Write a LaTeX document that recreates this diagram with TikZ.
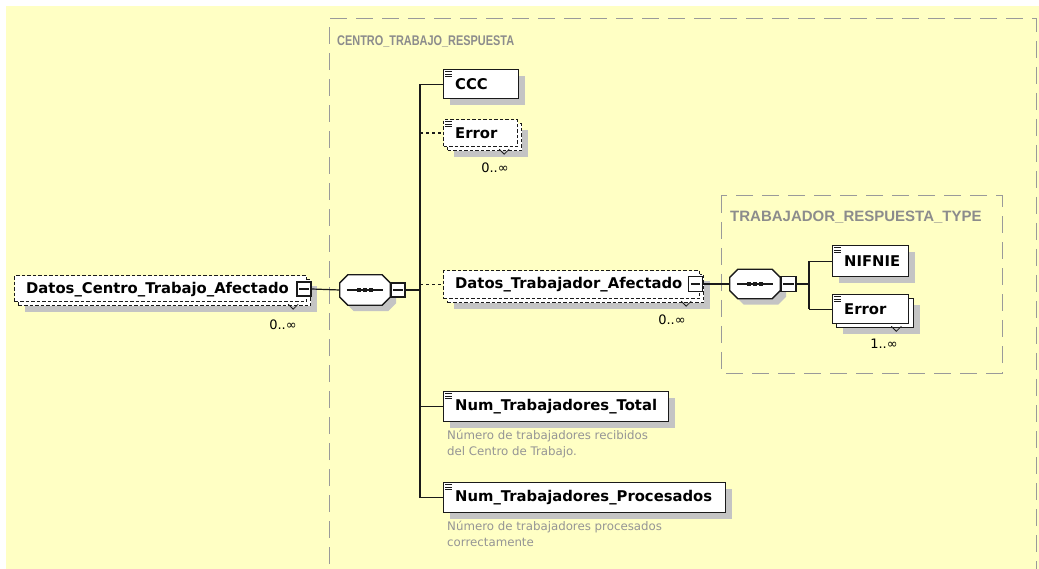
\documentclass[tikz,border=0pt]{standalone}
\usepackage{fontspec}
\setmainfont{DejaVu Sans}
\newfontfamily\labfont{Liberation Sans}
\usetikzlibrary{calc,shadows}
\definecolor{bgc}{HTML}{FFFFC4}
\definecolor{shadowc}{HTML}{C4C4C4}
\definecolor{grpc}{HTML}{9A9A9A}
\definecolor{labc}{HTML}{8C8C8C}
\definecolor{descc}{HTML}{959595}
\definecolor{linec}{HTML}{1A1A1A}
\tikzset{
  grpbox/.style={draw=grpc, line width=1pt, dash pattern=on 17pt off 9pt},
  grplabel/.style={text=labc, font=\labfont\bfseries\fontsize{14}{16}\selectfont, anchor=west, inner sep=0},
  elem/.style={draw=linec, fill=white, line width=1.3pt, inner sep=0, anchor=north west},
  elemdash/.style={elem, line width=1.2pt, dash pattern=on 3.5pt off 2pt},
  shad/.style={general shadow={shadow xshift=6pt, shadow yshift=-6pt, fill=shadowc}},
  etext/.style={font=\bfseries\fontsize{14.8}{16}\selectfont, anchor=west, inner sep=0},
  conn/.style={draw=linec, line width=1.2pt},
  conndash/.style={conn, dash pattern=on 3pt off 3pt},
  minusbox/.style={draw=linec, fill=white, line width=1.2pt, inner sep=0, minimum width=14, minimum height=14},
  seqbox/.style={inner sep=0, minimum width=50, minimum height=30},
  mult/.style={font=\fontsize{13}{15}\selectfont, inner sep=0},
  desc/.style={text=descc, font=\fontsize{11.8}{16}\selectfont, anchor=north west, inner sep=0, align=left},
  notch/.style={draw=linec, line width=0.8pt},
  icn/.style={draw=linec, line width=0.8pt}
}
\newcommand\octo[3]{($(#1.north west)+(8+#2,#3)$) -- ($(#1.north east)+(-8+#2,#3)$) -- ($(#1.north east)+(#2,8+#3)$) -- ($(#1.south east)+(#2,-8+#3)$) -- ($(#1.south east)+(-8+#2,#3)$) -- ($(#1.south west)+(8+#2,#3)$) -- ($(#1.south west)+(#2,-8+#3)$) -- ($(#1.north west)+(#2,8+#3)$) -- cycle}
\newcommand\seqdraw[1]{%
  \fill[shadowc] \octo{#1}{6}{6};
  \draw[draw=linec, fill=white, line width=1.3pt] \octo{#1}{0}{0};
  \draw[conn] ($(#1.west)+(7,0)$) -- ($(#1.east)+(-7,0)$);
  \foreach \d in {-6,0,6} {\fill[linec] ($(#1.center)+(\d-2,-2)$) rectangle ++(4,4);}
}
\newcommand\minusline{}
\renewcommand\minusline[1]{\draw[conn] ($(#1.west)+(3,0)$) -- ($(#1.east)+(-3,0)$);}
\newcommand\ico[1]{\foreach \dy in {2.5,5,7.5} {\draw[icn] ($(#1.north west)+(2,\dy)$) -- ++(7,0);}}
\newcommand\notchat[1]{\draw[notch] ($(#1.south east)+(-23,-2)$) -- ++(5,5) -- ++(5,-5);}
\begin{document}
\begin{tikzpicture}[x=1pt,y=-1pt]
\useasboundingbox (0,0) rectangle (1039,569);
\fill[bgc] (6,6) rectangle (1039,569);
% group boxes
\draw[grpbox] (329,590) -- (329,19) -- (1036,19) -- (1036,590);
\node[grplabel] (grp1) at (337,41) {\scalebox{0.78}[1]{CENTRO\_TRABAJO\_RESPUESTA}};
\draw[grpbox] (721,196) rectangle (1002,373);
\node[grplabel, font=\labfont\bfseries\fontsize{15}{17}\selectfont] (grp2) at (730,217) {TRABAJADOR\_RESPUESTA\_TYPE};

% Datos_Centro_Trabajo_Afectado
\node[elemdash, shad, minimum width=292, minimum height=26] (dcab) at (18,279) {};
\node[elemdash, minimum width=292, minimum height=26] (dca) at (14,275) {};
\node[etext] (dcat) at ($(dca.west)+(12,1)$) {Datos\_Centro\_Trabajo\_Afectado};
\node[minusbox] (dcam) at (304,289) {};
\minusline{dcam}
\notchat{dcab}
\node[mult] (dcamult) at (283,325) {0..∞};

% sequence A
\node[seqbox] (seqA) at (365,290) {};
\seqdraw{seqA}
\node[minusbox] (seqAm) at (398,290) {};
\minusline{seqAm}
\draw[conn] (dcam.east) -- (seqA.west);
\coordinate (trunk) at (420,290);
\draw[conn] (seqAm.east) -- (trunk);

% children of CENTRO_TRABAJO_RESPUESTA
\node[elem, shad, minimum width=75, minimum height=29] (ccc) at (443,69) {};
\ico{ccc}
\node[etext] (ccct) at ($(ccc.west)+(12,0)$) {CCC};

\node[elemdash, shad, minimum width=74, minimum height=27] (err1b) at (447,123) {};
\node[elemdash, minimum width=74, minimum height=27] (err1) at (443,119) {};
\ico{err1}
\node[etext] (err1t) at ($(err1.west)+(12,0)$) {Error};
\notchat{err1b}
\node[mult] (err1mult) at (495,168) {0..∞};

\node[elemdash, shad, minimum width=256, minimum height=28] (dtab) at (447,274) {};
\node[elemdash, minimum width=256, minimum height=28] (dta) at (443,270) {};
\node[etext] (dtat) at ($(dta.west)+(12,0)$) {Datos\_Trabajador\_Afectado};
\node[minusbox, minimum height=15] (dtam) at (695.5,284) {};
\minusline{dtam}
\notchat{dtab}
\node[mult] (dtamult) at (672,320) {0..∞};

\node[elem, shad, minimum width=225, minimum height=30] (numt) at (443,391) {};
\ico{numt}
\node[etext] (numtt) at ($(numt.west)+(12,0)$) {Num\_Trabajadores\_Total};
\node[desc] (numtd) at (447,430) {Número de trabajadores recibidos\\del Centro de Trabajo.};

\node[elem, shad, minimum width=282, minimum height=30] (nump) at (443,482) {};
\ico{nump}
\node[etext] (numpt) at ($(nump.west)+(12,0)$) {Num\_Trabajadores\_Procesados};
\node[desc] (numpd) at (447,521) {Número de trabajadores procesados\\correctamente};

% trunk and branches
\draw[conn] (ccc.west -| trunk) -- (nump.west -| trunk);
\draw[conn] (ccc.west -| trunk) -- (ccc.west);
\draw[conndash] (err1.west -| trunk) -- (err1.west);
\draw[conndash] (dta.west -| trunk) -- (dta.west);
\draw[conn] (numt.west -| trunk) -- (numt.west);
\draw[conn] (nump.west -| trunk) -- (nump.west);

% sequence B
\node[seqbox, minimum height=29] (seqB) at (755,284) {};
\seqdraw{seqB}
\node[minusbox, minimum width=15, minimum height=15] (seqBm) at (788.5,284) {};
\minusline{seqBm}
\draw[conn] (dtam.east) -- (seqB.west);
\coordinate (trunkB) at (809,284);
\draw[conn] (seqBm.east) -- (trunkB);

\node[elem, shad, minimum width=76, minimum height=31] (nif) at (832,245) {};
\ico{nif}
\node[etext] (nift) at ($(nif.west)+(12,0)$) {NIFNIE};

\node[elem, shad, minimum width=77, minimum height=29] (err2b) at (836,298) {};
\node[elem, minimum width=76, minimum height=29] (err2) at (832,294) {};
\ico{err2}
\node[etext] (err2t) at ($(err2.west)+(12,0)$) {Error};
\notchat{err2b}
\node[mult] (err2mult) at (884,344) {1..∞};

\draw[conn] (nif.west -| trunkB) -- (err2.west -| trunkB);
\draw[conn] (nif.west -| trunkB) -- (nif.west);
\draw[conn] (err2.west -| trunkB) -- (err2.west);
\end{tikzpicture}
\end{document}
